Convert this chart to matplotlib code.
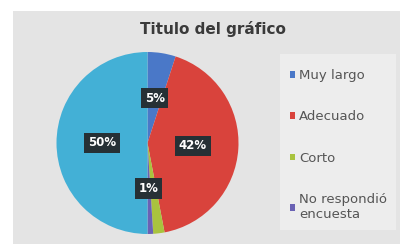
import matplotlib
matplotlib.use("Agg")
import matplotlib.pyplot as plt
from matplotlib.patches import Rectangle
import numpy as np

categories = ["Muy largo", "Adecuado", "Corto", "No respondió\nencuesta", "Otro"]
values = [5, 42, 2, 1, 50]
labels_shown = ["5%", "42%", "", "1%", "50%"]
colors = ["#4a78c8", "#d9433c", "#a9c33e", "#6a62b4", "#43b0d6"]
legend_count = 4
title = "Titulo del gráfico"

W, H = 400, 244
fig = plt.figure(figsize=(W / 100, H / 100), dpi=100)
fig.patch.set_facecolor("white")

# grey chart panel
fig.patches.append(Rectangle((13 / W, 0), 1 - 13 / W, 1 - 11 / H,
                             transform=fig.transFigure, facecolor="#e4e4e4",
                             edgecolor="none", zorder=-2))
# lighter legend area
fig.patches.append(Rectangle((280 / W, 14 / H), 116 / W, 176 / H,
                             transform=fig.transFigure, facecolor="#ededed",
                             edgecolor="none", zorder=-1))

cx, cy, r = 147.5, 143, 91
ax = fig.add_axes([(cx - r) / W, (H - cy - r) / H, 2 * r / W, 2 * r / H])
ax.set_facecolor("none")
wedges, _ = ax.pie(values, colors=colors, startangle=90, counterclock=False,
                   wedgeprops=dict(linewidth=0))
ax.set_xlim(-1, 1)
ax.set_ylim(-1, 1)
ax.set_aspect("equal")
ax.axis("off")

total = sum(values)
start = 90.0
for v, lab in zip(values, labels_shown):
    ang = start - v / total * 360 / 2
    start -= v / total * 360
    if not lab:
        continue
    x = 0.5 * np.cos(np.radians(ang))
    y = 0.5 * np.sin(np.radians(ang))
    ax.text(x, y, lab, ha="center", va="center", color="white",
            fontsize=8.5, fontweight="bold",
            bbox=dict(boxstyle="square,pad=0.3", facecolor="#263035",
                      edgecolor="none"))

fig.text(213 / W, 1 - 29 / H, title, ha="center", va="center",
         fontsize=11, fontweight="bold", color="#3a3a3a")

leg = fig.legend(wedges[:legend_count], categories[:legend_count],
                 loc="upper left", bbox_to_anchor=(290 / W, 1 - 69 / H),
                 frameon=False, fontsize=9.5, labelcolor="#555555",
                 handlelength=0.4, handleheight=0.4, handletextpad=0.3,
                 labelspacing=2.15, borderaxespad=0, borderpad=0)

fig.savefig("out.png", dpi=100)
